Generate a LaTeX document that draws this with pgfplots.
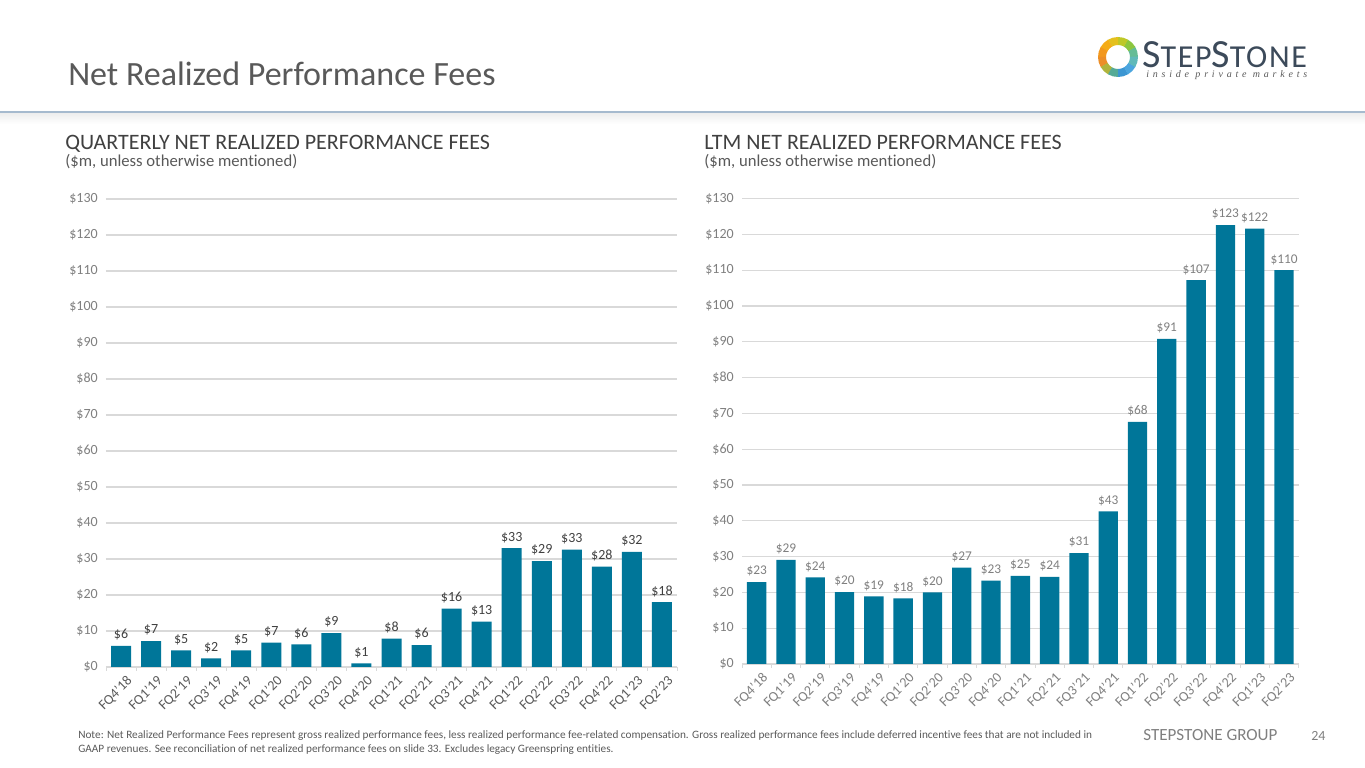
\documentclass[border=0pt]{standalone}
\usepackage{pgfplots}
\pgfplotsset{compat=1.18}
\usepackage{fontspec}
\setmainfont{Carlito}[Ligatures={TeX,NoCommon}]
\newfontfamily\logotag{Liberation Serif}[LetterSpace=38]
\newfontfamily\logofont{Carlito}[LetterSpace=5,Ligatures=NoCommon]
\definecolor{barc}{RGB}{0,118,153}
\definecolor{gridc}{RGB}{217,217,217}
\definecolor{txt}{RGB}{89,89,89}
\definecolor{ltxt}{RGB}{127,127,127}
\definecolor{dark}{RGB}{64,64,64}
\definecolor{logoc}{RGB}{60,74,90}
\definecolor{rule}{RGB}{166,186,206}

\pgfplotstableread{
x v
0 5.9
1 7.2
2 4.6
3 2.4
4 4.6
5 6.8
6 6.3
7 9.4
8 1.0
9 7.9
10 6.1
11 16.2
12 12.6
13 33.0
14 29.4
15 32.6
16 27.9
17 32.0
18 18.0
}\quarterly

\pgfplotstableread{
x v
0 22.9
1 29.1
2 24.2
3 20.1
4 18.9
5 18.3
6 20.0
7 26.9
8 23.3
9 24.6
10 24.3
11 31.0
12 42.6
13 67.6
14 90.8
15 107.2
16 122.6
17 121.6
18 110.0
}\ltm

\pgfplotsset{mybar/.style={
  scale only axis,
  xmin=-0.5, xmax=18.5, ymin=0, ymax=130,
  ytick={0,10,...,130},
  yticklabel={\$\pgfmathprintnumber{\tick}},
  /pgf/number format/assume math mode=true,
  ymajorgrids,
  grid style={draw=gridc, line width=0.9pt},
  axis line style={draw=none},
  xtick={0,...,18},
  xticklabels={FQ4'18,FQ1'19,FQ2'19,FQ3'19,FQ4'19,FQ1'20,FQ2'20,FQ3'20,FQ4'20,FQ1'21,FQ2'21,FQ3'21,FQ4'21,FQ1'22,FQ2'22,FQ3'22,FQ4'22,FQ1'23,FQ2'23},
  minor xtick={-0.5,0.5,...,18.5},
  major tick length=0pt,
  minor tick length=3pt,
  xtick align=outside,
  tick pos=left,
  minor tick style={draw=gridc, line width=0.6pt},
  yticklabel style={font=\fontsize{10.5}{12}\selectfont, text=ltxt, inner sep=0pt, xshift=-6pt},
  xticklabel style={font=\fontsize{10.5}{12}\selectfont, rotate=45, anchor=north east, inner sep=1pt, yshift=-5.5pt, xshift=-0.5pt},
  clip=false,
}}

\begin{document}
\begin{tikzpicture}[x=0.75pt,y=0.75pt]
\path[use as bounding box] (0,0) rectangle (1365,768);

% header
\node[anchor=base west, inner sep=0pt, text=txt, font=\fontsize{25.5}{30}\selectfont] at (68,768-86) {Net Realized Performance Fees};
\shade[top color=black!7, bottom color=white] (0,768-113) rectangle (1365,768-124);
\draw[rule, line width=1.2pt] (0,768-112) -- (1365,768-112);

% logo
\begin{scope}[shift={(1118,711)}]
\foreach \a/\r/\g/\b in {0/100/188/150, 30/140/198/63, 60/190/200/40, 90/228/192/30, 120/245/172/22, 150/242/152/30, 180/236/142/40, 210/175/180/60, 240/85/170/150, 270/60/150/210, 300/75/165/222, 330/95/185/185}{
  \definecolor{segc}{RGB}{\r,\g,\b}
  \fill[segc] (\a:20) arc[start angle=\a, end angle=\a+31, radius=20] -- (\a+31:12) arc[start angle=\a+31, end angle=\a, radius=12] -- cycle;
}
\end{scope}
\node[anchor=base west, inner sep=0pt, text=logoc] at (1142,768-68) {\logofont\fontsize{30}{30}\selectfont S\fontsize{24}{24}\selectfont TEP\fontsize{30}{30}\selectfont S\fontsize{24}{24}\selectfont TONE};
\node[anchor=base west, inner sep=0pt, text=txt] at (1146,768-78) {\logotag\itshape\fontsize{7.5}{8}\selectfont inside private markets};

% subtitles
\node[anchor=base west, inner sep=0pt, text=dark, font=\fontsize{16.5}{20}\selectfont] at (65,768-150) {QUARTERLY NET REALIZED PERFORMANCE FEES};
\node[anchor=base west, inner sep=0pt, text=txt, font=\fontsize{12.5}{15}\selectfont] at (65,768-167) {(\$m, unless otherwise mentioned)};
\node[anchor=base west, inner sep=0pt, text=dark, font=\fontsize{16.5}{20}\selectfont] at (704,768-150) {LTM NET REALIZED PERFORMANCE FEES};
\node[anchor=base west, inner sep=0pt, text=txt, font=\fontsize{12.5}{15}\selectfont] at (704,768-167) {(\$m, unless otherwise mentioned)};

% left chart
\begin{axis}[mybar,
  at={(79.5pt,75.75pt)}, anchor=south west,
  width=428.25pt, height=351pt,
  xticklabel style={text=txt},
  nodes near coords={\$\pgfmathprintnumber[fixed,precision=0]{\pgfplotspointmeta}},
  nodes near coords style={font=\fontsize{10.5}{12}\selectfont, text=dark, inner sep=2pt, yshift=2pt},
]
\addplot[ybar, bar width=15pt, fill=barc, draw=none] table[x=x,y=v] {\quarterly};
\end{axis}

% right chart
\begin{axis}[mybar,
  at={(556.5pt,78pt)}, anchor=south west,
  width=417.5pt, height=349.1pt,
  xticklabel style={text=ltxt},
  nodes near coords={\$\pgfmathprintnumber[fixed,precision=0]{\pgfplotspointmeta}},
  nodes near coords style={font=\fontsize{10}{12}\selectfont, text=ltxt, inner sep=2pt, yshift=2pt},
]
\addplot[ybar, bar width=14.5pt, fill=barc, draw=none] table[x=x,y=v] {\ltm};
\end{axis}

% footer
\node[anchor=base west, inner sep=0pt, text=txt, font=\fontsize{8.45}{10}\selectfont] at (78,768-738.5) {Note: Net Realized Performance Fees represent gross realized performance fees, less realized performance fee-related compensation. Gross realized performance fees include deferred incentive fees that are not included in};
\node[anchor=base west, inner sep=0pt, text=txt, font=\fontsize{8.45}{10}\selectfont] at (78,768-752.5) {GAAP revenues. See reconciliation of net realized performance fees on slide 33. Excludes legacy Greenspring entities.};
\node[anchor=base west, inner sep=0pt, text=ltxt, font=\fontsize{12.8}{14}\selectfont] at (1143,768-741) {STEPSTONE GROUP};
\node[anchor=base west, inner sep=0pt, text=ltxt, font=\fontsize{10.5}{12}\selectfont] at (1311,768-741) {24};
\end{tikzpicture}
\end{document}
